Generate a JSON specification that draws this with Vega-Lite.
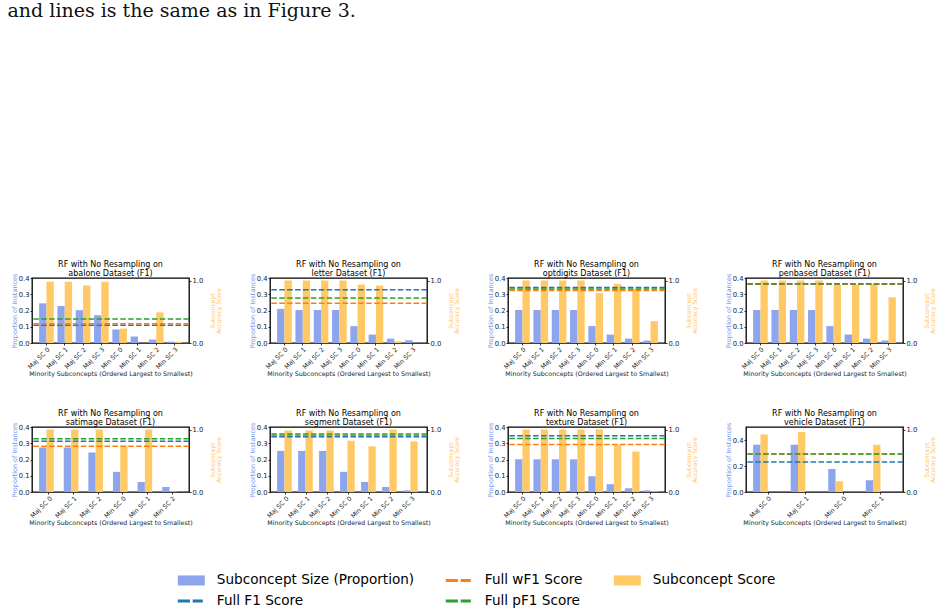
{
  "$schema": "https://vega.github.io/schema/vega-lite/v6.json",
  "padding": {"left": 7, "top": 2, "right": 4, "bottom": 2},
  "title": {"text": "and lines is the same as in Figure 3.", "anchor": "start", "font": "DejaVu Serif", "fontSize": 19, "fontWeight": "normal", "color": "#111", "offset": 239, "dx": -3, "lineHeight": 19},
  "columns": 4,
  "bounds": "flush",
  "spacing": {"row": 84, "column": 81},
  "datasets": {
    "bars": [
      {"ds": "abalone", "sc": "Maj SC 0", "prop": 0.244, "score": 0.98},
      {"ds": "abalone", "sc": "Maj SC 1", "prop": 0.227, "score": 0.98},
      {"ds": "abalone", "sc": "Maj SC 2", "prop": 0.202, "score": 0.92},
      {"ds": "abalone", "sc": "Maj SC 3", "prop": 0.171, "score": 0.98},
      {"ds": "abalone", "sc": "Min SC 0", "prop": 0.083, "score": 0.23},
      {"ds": "abalone", "sc": "Min SC 1", "prop": 0.040, "score": 0.0},
      {"ds": "abalone", "sc": "Min SC 2", "prop": 0.021, "score": 0.49},
      {"ds": "abalone", "sc": "Min SC 3", "prop": 0.008, "score": 0.02},
      {"ds": "letter", "sc": "Maj SC 0", "prop": 0.21, "score": 1.0},
      {"ds": "letter", "sc": "Maj SC 1", "prop": 0.203, "score": 1.0},
      {"ds": "letter", "sc": "Maj SC 2", "prop": 0.203, "score": 1.0},
      {"ds": "letter", "sc": "Maj SC 3", "prop": 0.203, "score": 1.0},
      {"ds": "letter", "sc": "Min SC 0", "prop": 0.104, "score": 0.935},
      {"ds": "letter", "sc": "Min SC 1", "prop": 0.052, "score": 0.92},
      {"ds": "letter", "sc": "Min SC 2", "prop": 0.027, "score": 0.027},
      {"ds": "letter", "sc": "Min SC 3", "prop": 0.017, "score": 0.0},
      {"ds": "optdigits", "sc": "Maj SC 0", "prop": 0.203, "score": 1.0},
      {"ds": "optdigits", "sc": "Maj SC 1", "prop": 0.203, "score": 1.0},
      {"ds": "optdigits", "sc": "Maj SC 2", "prop": 0.203, "score": 1.0},
      {"ds": "optdigits", "sc": "Maj SC 3", "prop": 0.203, "score": 1.0},
      {"ds": "optdigits", "sc": "Min SC 0", "prop": 0.104, "score": 0.80},
      {"ds": "optdigits", "sc": "Min SC 1", "prop": 0.052, "score": 0.946},
      {"ds": "optdigits", "sc": "Min SC 2", "prop": 0.027, "score": 0.865},
      {"ds": "optdigits", "sc": "Min SC 3", "prop": 0.015, "score": 0.35},
      {"ds": "penbased", "sc": "Maj SC 0", "prop": 0.203, "score": 1.0},
      {"ds": "penbased", "sc": "Maj SC 1", "prop": 0.203, "score": 1.0},
      {"ds": "penbased", "sc": "Maj SC 2", "prop": 0.203, "score": 1.0},
      {"ds": "penbased", "sc": "Maj SC 3", "prop": 0.203, "score": 1.0},
      {"ds": "penbased", "sc": "Min SC 0", "prop": 0.104, "score": 0.935},
      {"ds": "penbased", "sc": "Min SC 1", "prop": 0.052, "score": 0.935},
      {"ds": "penbased", "sc": "Min SC 2", "prop": 0.027, "score": 0.946},
      {"ds": "penbased", "sc": "Min SC 3", "prop": 0.015, "score": 0.73},
      {"ds": "satimage", "sc": "Maj SC 0", "prop": 0.274, "score": 1.0},
      {"ds": "satimage", "sc": "Maj SC 1", "prop": 0.274, "score": 1.0},
      {"ds": "satimage", "sc": "Maj SC 2", "prop": 0.243, "score": 1.0},
      {"ds": "satimage", "sc": "Min SC 0", "prop": 0.124, "score": 0.74},
      {"ds": "satimage", "sc": "Min SC 1", "prop": 0.062, "score": 1.0},
      {"ds": "satimage", "sc": "Min SC 2", "prop": 0.031, "score": 0.01},
      {"ds": "segment", "sc": "Maj SC 0", "prop": 0.253, "score": 0.985},
      {"ds": "segment", "sc": "Maj SC 1", "prop": 0.253, "score": 0.985},
      {"ds": "segment", "sc": "Maj SC 2", "prop": 0.253, "score": 0.985},
      {"ds": "segment", "sc": "Min SC 0", "prop": 0.124, "score": 0.82},
      {"ds": "segment", "sc": "Min SC 1", "prop": 0.062, "score": 0.73},
      {"ds": "segment", "sc": "Min SC 2", "prop": 0.031, "score": 1.0},
      {"ds": "segment", "sc": "Min SC 3", "prop": 0.01, "score": 0.81},
      {"ds": "texture", "sc": "Maj SC 0", "prop": 0.201, "score": 1.0},
      {"ds": "texture", "sc": "Maj SC 1", "prop": 0.201, "score": 1.0},
      {"ds": "texture", "sc": "Maj SC 2", "prop": 0.201, "score": 1.0},
      {"ds": "texture", "sc": "Maj SC 3", "prop": 0.201, "score": 1.0},
      {"ds": "texture", "sc": "Min SC 0", "prop": 0.097, "score": 1.0},
      {"ds": "texture", "sc": "Min SC 1", "prop": 0.048, "score": 0.75},
      {"ds": "texture", "sc": "Min SC 2", "prop": 0.023, "score": 0.65},
      {"ds": "texture", "sc": "Min SC 3", "prop": 0.01, "score": 0.01},
      {"ds": "vehicle", "sc": "Maj SC 0", "prop": 0.364, "score": 0.92},
      {"ds": "vehicle", "sc": "Maj SC 1", "prop": 0.364, "score": 0.96},
      {"ds": "vehicle", "sc": "Min SC 0", "prop": 0.177, "score": 0.173},
      {"ds": "vehicle", "sc": "Min SC 1", "prop": 0.091, "score": 0.757}
    ],
    "lines": [
      {"ds": "abalone", "f1": 0.283, "wf1": 0.31, "pf1": 0.385},
      {"ds": "letter", "f1": 0.854, "wf1": 0.638, "pf1": 0.719},
      {"ds": "optdigits", "f1": 0.89, "wf1": 0.84, "pf1": 0.865},
      {"ds": "penbased", "f1": 0.94, "wf1": 0.945, "pf1": 0.95},
      {"ds": "satimage", "f1": 0.813, "wf1": 0.731, "pf1": 0.852},
      {"ds": "segment", "f1": 0.885, "wf1": 0.91, "pf1": 0.93},
      {"ds": "texture", "f1": 0.90, "wf1": 0.76, "pf1": 0.857},
      {"ds": "vehicle", "f1": 0.48, "wf1": 0.61, "pf1": 0.61}
    ],
    "legend": [
      {"key": "Subconcept Size (Proportion)"},
      {"key": "Full wF1 Score"},
      {"key": "Subconcept Score"},
      {"key": "Full F1 Score"},
      {"key": "Full pF1 Score"}
    ]
  },
  "concat": [
    {
      "title": {"text": ["RF with No Resampling on", "abalone Dataset (F1)"]},
      "width": 157, "height": 65,
      "resolve": {"scale": {"y": "independent"}},
      "layer": [
        {"data": {"name": "bars"}, "transform": [{"filter": "datum.ds === 'abalone'"}],
          "mark": {"type": "bar", "color": "#8da5ed"},
          "encoding": {
            "x": {"field": "sc", "type": "nominal", "sort": null, "scale": {"paddingInner": 0.2, "paddingOuter": 0.39}, "axis": {"title": "Minority Subconcepts (Ordered Largest to Smallest)"}},
            "xOffset": {"datum": "p", "type": "nominal", "scale": {"domain": ["p", "s"], "paddingInner": 0, "paddingOuter": 0}},
            "y": {"field": "prop", "type": "quantitative", "scale": {"domain": [0, 0.4], "nice": false}, "axis": {"orient": "left", "values": [0, 0.1, 0.2, 0.3, 0.4], "format": ".1f", "title": "Proportion of Instances", "titleColor": "#7b96ea"}}
          }},
        {"layer": [
          {"data": {"name": "bars"}, "transform": [{"filter": "datum.ds === 'abalone'"}],
            "mark": {"type": "bar", "color": "#ffc966"},
            "encoding": {
              "x": {"field": "sc", "type": "nominal", "sort": null, "scale": {"paddingInner": 0.2, "paddingOuter": 0.39}, "axis": {"title": "Minority Subconcepts (Ordered Largest to Smallest)"}},
              "xOffset": {"datum": "s", "type": "nominal", "scale": {"domain": ["p", "s"], "paddingInner": 0, "paddingOuter": 0}},
              "y": {"field": "score", "type": "quantitative", "scale": {"domain": [0, 1.04], "nice": false}, "axis": {"orient": "right", "values": [0, 0.5, 1], "format": ".1f", "title": ["Subconcept", "Accuracy Score"], "titleColor": "#ffc35e", "titleAngle": 270, "titleBaseline": "top", "titleFontSize": 6, "titleLineHeight": 6}}
            }},
          {"data": {"name": "lines"}, "transform": [{"filter": "datum.ds === 'abalone'"}],
            "mark": {"type": "rule", "color": "#1f77b4", "strokeDash": [5.5, 2.4], "strokeWidth": 1.5},
            "encoding": {"y": {"field": "f1", "type": "quantitative", "scale": {"domain": [0, 1.04], "nice": false}}}},
          {"data": {"name": "lines"}, "transform": [{"filter": "datum.ds === 'abalone'"}],
            "mark": {"type": "rule", "color": "#ff7f0e", "strokeDash": [5.5, 2.4], "strokeWidth": 1.5},
            "encoding": {"y": {"field": "wf1", "type": "quantitative", "scale": {"domain": [0, 1.04], "nice": false}}}},
          {"data": {"name": "lines"}, "transform": [{"filter": "datum.ds === 'abalone'"}],
            "mark": {"type": "rule", "color": "#2ca02c", "strokeDash": [5.5, 2.4], "strokeWidth": 1.5},
            "encoding": {"y": {"field": "pf1", "type": "quantitative", "scale": {"domain": [0, 1.04], "nice": false}}}}
        ]},
        {"data": {"name": "legend"},
          "mark": {"type": "point", "opacity": 0, "filled": true},
          "encoding": {
            "color": {"field": "key", "type": "nominal", "sort": null,
              "scale": {"domain": ["Subconcept Size (Proportion)", "Full wF1 Score", "Subconcept Score", "Full F1 Score", "Full pF1 Score"], "range": ["#8da5ed", "#ff7f0e", "#ffc966", "#1f77b4", "#2ca02c"]},
              "legend": {"title": null, "orient": "none", "legendX": 150.8, "legendY": 293.5, "columns": 3, "direction": "horizontal", "symbolSize": 289, "symbolOpacity": 1, "symbolStrokeWidth": 0, "labelFont": "DejaVu Sans", "labelFontSize": 13.6, "labelColor": "#000", "labelOffset": 17, "columnPadding": 30, "rowPadding": 5, "padding": 0, "labelLimit": 400}},
            "shape": {"field": "key", "type": "nominal", "sort": null,
              "scale": {"domain": ["Subconcept Size (Proportion)", "Full wF1 Score", "Subconcept Score", "Full F1 Score", "Full pF1 Score"], "range": ["M-1.59,-0.59H1.59V0.59H-1.59Z", "M-1.59,-0.18H-0.16V0.18H-1.59Z M0.16,-0.18H1.35V0.18H0.16Z", "M-1.59,-0.59H1.59V0.59H-1.59Z", "M-1.59,-0.18H-0.16V0.18H-1.59Z M0.16,-0.18H1.35V0.18H0.16Z", "M-1.59,-0.18H-0.16V0.18H-1.59Z M0.16,-0.18H1.35V0.18H0.16Z"]},
              "legend": {"title": null, "orient": "none", "legendX": 150.8, "legendY": 293.5, "columns": 3, "direction": "horizontal", "symbolSize": 289, "symbolOpacity": 1, "symbolStrokeWidth": 0, "labelFont": "DejaVu Sans", "labelFontSize": 13.6, "labelColor": "#000", "labelOffset": 17, "columnPadding": 30, "rowPadding": 5, "padding": 0, "labelLimit": 400}}
          }}
      ]
    },
    {
      "title": {"text": ["RF with No Resampling on", "letter Dataset (F1)"]},
      "width": 157, "height": 65,
      "resolve": {"scale": {"y": "independent"}},
      "layer": [
        {"data": {"name": "bars"}, "transform": [{"filter": "datum.ds === 'letter'"}],
          "mark": {"type": "bar", "color": "#8da5ed"},
          "encoding": {
            "x": {"field": "sc", "type": "nominal", "sort": null, "scale": {"paddingInner": 0.2, "paddingOuter": 0.39}, "axis": {"title": "Minority Subconcepts (Ordered Largest to Smallest)"}},
            "xOffset": {"datum": "p", "type": "nominal", "scale": {"domain": ["p", "s"], "paddingInner": 0, "paddingOuter": 0}},
            "y": {"field": "prop", "type": "quantitative", "scale": {"domain": [0, 0.4], "nice": false}, "axis": {"orient": "left", "values": [0, 0.1, 0.2, 0.3, 0.4], "format": ".1f", "title": "Proportion of Instances", "titleColor": "#7b96ea"}}
          }},
        {"layer": [
          {"data": {"name": "bars"}, "transform": [{"filter": "datum.ds === 'letter'"}],
            "mark": {"type": "bar", "color": "#ffc966"},
            "encoding": {
              "x": {"field": "sc", "type": "nominal", "sort": null, "scale": {"paddingInner": 0.2, "paddingOuter": 0.39}, "axis": {"title": "Minority Subconcepts (Ordered Largest to Smallest)"}},
              "xOffset": {"datum": "s", "type": "nominal", "scale": {"domain": ["p", "s"], "paddingInner": 0, "paddingOuter": 0}},
              "y": {"field": "score", "type": "quantitative", "scale": {"domain": [0, 1.04], "nice": false}, "axis": {"orient": "right", "values": [0, 0.5, 1], "format": ".1f", "title": ["Subconcept", "Accuracy Score"], "titleColor": "#ffc35e", "titleAngle": 270, "titleBaseline": "top", "titleFontSize": 6, "titleLineHeight": 6}}
            }},
          {"data": {"name": "lines"}, "transform": [{"filter": "datum.ds === 'letter'"}],
            "mark": {"type": "rule", "color": "#1f77b4", "strokeDash": [5.5, 2.4], "strokeWidth": 1.5},
            "encoding": {"y": {"field": "f1", "type": "quantitative", "scale": {"domain": [0, 1.04], "nice": false}}}},
          {"data": {"name": "lines"}, "transform": [{"filter": "datum.ds === 'letter'"}],
            "mark": {"type": "rule", "color": "#ff7f0e", "strokeDash": [5.5, 2.4], "strokeWidth": 1.5},
            "encoding": {"y": {"field": "wf1", "type": "quantitative", "scale": {"domain": [0, 1.04], "nice": false}}}},
          {"data": {"name": "lines"}, "transform": [{"filter": "datum.ds === 'letter'"}],
            "mark": {"type": "rule", "color": "#2ca02c", "strokeDash": [5.5, 2.4], "strokeWidth": 1.5},
            "encoding": {"y": {"field": "pf1", "type": "quantitative", "scale": {"domain": [0, 1.04], "nice": false}}}}
        ]}
      ]
    },
    {
      "title": {"text": ["RF with No Resampling on", "optdigits Dataset (F1)"]},
      "width": 157, "height": 65,
      "resolve": {"scale": {"y": "independent"}},
      "layer": [
        {"data": {"name": "bars"}, "transform": [{"filter": "datum.ds === 'optdigits'"}],
          "mark": {"type": "bar", "color": "#8da5ed"},
          "encoding": {
            "x": {"field": "sc", "type": "nominal", "sort": null, "scale": {"paddingInner": 0.2, "paddingOuter": 0.39}, "axis": {"title": "Minority Subconcepts (Ordered Largest to Smallest)"}},
            "xOffset": {"datum": "p", "type": "nominal", "scale": {"domain": ["p", "s"], "paddingInner": 0, "paddingOuter": 0}},
            "y": {"field": "prop", "type": "quantitative", "scale": {"domain": [0, 0.4], "nice": false}, "axis": {"orient": "left", "values": [0, 0.1, 0.2, 0.3, 0.4], "format": ".1f", "title": "Proportion of Instances", "titleColor": "#7b96ea"}}
          }},
        {"layer": [
          {"data": {"name": "bars"}, "transform": [{"filter": "datum.ds === 'optdigits'"}],
            "mark": {"type": "bar", "color": "#ffc966"},
            "encoding": {
              "x": {"field": "sc", "type": "nominal", "sort": null, "scale": {"paddingInner": 0.2, "paddingOuter": 0.39}, "axis": {"title": "Minority Subconcepts (Ordered Largest to Smallest)"}},
              "xOffset": {"datum": "s", "type": "nominal", "scale": {"domain": ["p", "s"], "paddingInner": 0, "paddingOuter": 0}},
              "y": {"field": "score", "type": "quantitative", "scale": {"domain": [0, 1.04], "nice": false}, "axis": {"orient": "right", "values": [0, 0.5, 1], "format": ".1f", "title": ["Subconcept", "Accuracy Score"], "titleColor": "#ffc35e", "titleAngle": 270, "titleBaseline": "top", "titleFontSize": 6, "titleLineHeight": 6}}
            }},
          {"data": {"name": "lines"}, "transform": [{"filter": "datum.ds === 'optdigits'"}],
            "mark": {"type": "rule", "color": "#1f77b4", "strokeDash": [5.5, 2.4], "strokeWidth": 1.5},
            "encoding": {"y": {"field": "f1", "type": "quantitative", "scale": {"domain": [0, 1.04], "nice": false}}}},
          {"data": {"name": "lines"}, "transform": [{"filter": "datum.ds === 'optdigits'"}],
            "mark": {"type": "rule", "color": "#ff7f0e", "strokeDash": [5.5, 2.4], "strokeWidth": 1.5},
            "encoding": {"y": {"field": "wf1", "type": "quantitative", "scale": {"domain": [0, 1.04], "nice": false}}}},
          {"data": {"name": "lines"}, "transform": [{"filter": "datum.ds === 'optdigits'"}],
            "mark": {"type": "rule", "color": "#2ca02c", "strokeDash": [5.5, 2.4], "strokeWidth": 1.5},
            "encoding": {"y": {"field": "pf1", "type": "quantitative", "scale": {"domain": [0, 1.04], "nice": false}}}}
        ]}
      ]
    },
    {
      "title": {"text": ["RF with No Resampling on", "penbased Dataset (F1)"]},
      "width": 157, "height": 65,
      "resolve": {"scale": {"y": "independent"}},
      "layer": [
        {"data": {"name": "bars"}, "transform": [{"filter": "datum.ds === 'penbased'"}],
          "mark": {"type": "bar", "color": "#8da5ed"},
          "encoding": {
            "x": {"field": "sc", "type": "nominal", "sort": null, "scale": {"paddingInner": 0.2, "paddingOuter": 0.39}, "axis": {"title": "Minority Subconcepts (Ordered Largest to Smallest)"}},
            "xOffset": {"datum": "p", "type": "nominal", "scale": {"domain": ["p", "s"], "paddingInner": 0, "paddingOuter": 0}},
            "y": {"field": "prop", "type": "quantitative", "scale": {"domain": [0, 0.4], "nice": false}, "axis": {"orient": "left", "values": [0, 0.1, 0.2, 0.3, 0.4], "format": ".1f", "title": "Proportion of Instances", "titleColor": "#7b96ea"}}
          }},
        {"layer": [
          {"data": {"name": "bars"}, "transform": [{"filter": "datum.ds === 'penbased'"}],
            "mark": {"type": "bar", "color": "#ffc966"},
            "encoding": {
              "x": {"field": "sc", "type": "nominal", "sort": null, "scale": {"paddingInner": 0.2, "paddingOuter": 0.39}, "axis": {"title": "Minority Subconcepts (Ordered Largest to Smallest)"}},
              "xOffset": {"datum": "s", "type": "nominal", "scale": {"domain": ["p", "s"], "paddingInner": 0, "paddingOuter": 0}},
              "y": {"field": "score", "type": "quantitative", "scale": {"domain": [0, 1.04], "nice": false}, "axis": {"orient": "right", "values": [0, 0.5, 1], "format": ".1f", "title": ["Subconcept", "Accuracy Score"], "titleColor": "#ffc35e", "titleAngle": 270, "titleBaseline": "top", "titleFontSize": 6, "titleLineHeight": 6}}
            }},
          {"data": {"name": "lines"}, "transform": [{"filter": "datum.ds === 'penbased'"}],
            "mark": {"type": "rule", "color": "#1f77b4", "strokeDash": [5.5, 2.4], "strokeWidth": 1.5},
            "encoding": {"y": {"field": "f1", "type": "quantitative", "scale": {"domain": [0, 1.04], "nice": false}}}},
          {"data": {"name": "lines"}, "transform": [{"filter": "datum.ds === 'penbased'"}],
            "mark": {"type": "rule", "color": "#ff7f0e", "strokeDash": [5.5, 2.4], "strokeWidth": 1.5},
            "encoding": {"y": {"field": "wf1", "type": "quantitative", "scale": {"domain": [0, 1.04], "nice": false}}}},
          {"data": {"name": "lines"}, "transform": [{"filter": "datum.ds === 'penbased'"}],
            "mark": {"type": "rule", "color": "#2ca02c", "strokeDash": [5.5, 2.4], "strokeWidth": 1.5},
            "encoding": {"y": {"field": "pf1", "type": "quantitative", "scale": {"domain": [0, 1.04], "nice": false}}}}
        ]}
      ]
    },
    {
      "title": {"text": ["RF with No Resampling on", "satimage Dataset (F1)"]},
      "width": 157, "height": 65,
      "resolve": {"scale": {"y": "independent"}},
      "layer": [
        {"data": {"name": "bars"}, "transform": [{"filter": "datum.ds === 'satimage'"}],
          "mark": {"type": "bar", "color": "#8da5ed"},
          "encoding": {
            "x": {"field": "sc", "type": "nominal", "sort": null, "scale": {"paddingInner": 0.2, "paddingOuter": 0.29}, "axis": {"title": "Minority Subconcepts (Ordered Largest to Smallest)"}},
            "xOffset": {"datum": "p", "type": "nominal", "scale": {"domain": ["p", "s"], "paddingInner": 0, "paddingOuter": 0}},
            "y": {"field": "prop", "type": "quantitative", "scale": {"domain": [0, 0.4], "nice": false}, "axis": {"orient": "left", "values": [0, 0.1, 0.2, 0.3, 0.4], "format": ".1f", "title": "Proportion of Instances", "titleColor": "#7b96ea"}}
          }},
        {"layer": [
          {"data": {"name": "bars"}, "transform": [{"filter": "datum.ds === 'satimage'"}],
            "mark": {"type": "bar", "color": "#ffc966"},
            "encoding": {
              "x": {"field": "sc", "type": "nominal", "sort": null, "scale": {"paddingInner": 0.2, "paddingOuter": 0.29}, "axis": {"title": "Minority Subconcepts (Ordered Largest to Smallest)"}},
              "xOffset": {"datum": "s", "type": "nominal", "scale": {"domain": ["p", "s"], "paddingInner": 0, "paddingOuter": 0}},
              "y": {"field": "score", "type": "quantitative", "scale": {"domain": [0, 1.04], "nice": false}, "axis": {"orient": "right", "values": [0, 0.5, 1], "format": ".1f", "title": ["Subconcept", "Accuracy Score"], "titleColor": "#ffc35e", "titleAngle": 270, "titleBaseline": "top", "titleFontSize": 6, "titleLineHeight": 6}}
            }},
          {"data": {"name": "lines"}, "transform": [{"filter": "datum.ds === 'satimage'"}],
            "mark": {"type": "rule", "color": "#1f77b4", "strokeDash": [5.5, 2.4], "strokeWidth": 1.5},
            "encoding": {"y": {"field": "f1", "type": "quantitative", "scale": {"domain": [0, 1.04], "nice": false}}}},
          {"data": {"name": "lines"}, "transform": [{"filter": "datum.ds === 'satimage'"}],
            "mark": {"type": "rule", "color": "#ff7f0e", "strokeDash": [5.5, 2.4], "strokeWidth": 1.5},
            "encoding": {"y": {"field": "wf1", "type": "quantitative", "scale": {"domain": [0, 1.04], "nice": false}}}},
          {"data": {"name": "lines"}, "transform": [{"filter": "datum.ds === 'satimage'"}],
            "mark": {"type": "rule", "color": "#2ca02c", "strokeDash": [5.5, 2.4], "strokeWidth": 1.5},
            "encoding": {"y": {"field": "pf1", "type": "quantitative", "scale": {"domain": [0, 1.04], "nice": false}}}}
        ]}
      ]
    },
    {
      "title": {"text": ["RF with No Resampling on", "segment Dataset (F1)"]},
      "width": 157, "height": 65,
      "resolve": {"scale": {"y": "independent"}},
      "layer": [
        {"data": {"name": "bars"}, "transform": [{"filter": "datum.ds === 'segment'"}],
          "mark": {"type": "bar", "color": "#8da5ed"},
          "encoding": {
            "x": {"field": "sc", "type": "nominal", "sort": null, "scale": {"paddingInner": 0.2, "paddingOuter": 0.34}, "axis": {"title": "Minority Subconcepts (Ordered Largest to Smallest)"}},
            "xOffset": {"datum": "p", "type": "nominal", "scale": {"domain": ["p", "s"], "paddingInner": 0, "paddingOuter": 0}},
            "y": {"field": "prop", "type": "quantitative", "scale": {"domain": [0, 0.4], "nice": false}, "axis": {"orient": "left", "values": [0, 0.1, 0.2, 0.3, 0.4], "format": ".1f", "title": "Proportion of Instances", "titleColor": "#7b96ea"}}
          }},
        {"layer": [
          {"data": {"name": "bars"}, "transform": [{"filter": "datum.ds === 'segment'"}],
            "mark": {"type": "bar", "color": "#ffc966"},
            "encoding": {
              "x": {"field": "sc", "type": "nominal", "sort": null, "scale": {"paddingInner": 0.2, "paddingOuter": 0.34}, "axis": {"title": "Minority Subconcepts (Ordered Largest to Smallest)"}},
              "xOffset": {"datum": "s", "type": "nominal", "scale": {"domain": ["p", "s"], "paddingInner": 0, "paddingOuter": 0}},
              "y": {"field": "score", "type": "quantitative", "scale": {"domain": [0, 1.04], "nice": false}, "axis": {"orient": "right", "values": [0, 0.5, 1], "format": ".1f", "title": ["Subconcept", "Accuracy Score"], "titleColor": "#ffc35e", "titleAngle": 270, "titleBaseline": "top", "titleFontSize": 6, "titleLineHeight": 6}}
            }},
          {"data": {"name": "lines"}, "transform": [{"filter": "datum.ds === 'segment'"}],
            "mark": {"type": "rule", "color": "#1f77b4", "strokeDash": [5.5, 2.4], "strokeWidth": 1.5},
            "encoding": {"y": {"field": "f1", "type": "quantitative", "scale": {"domain": [0, 1.04], "nice": false}}}},
          {"data": {"name": "lines"}, "transform": [{"filter": "datum.ds === 'segment'"}],
            "mark": {"type": "rule", "color": "#ff7f0e", "strokeDash": [5.5, 2.4], "strokeWidth": 1.5},
            "encoding": {"y": {"field": "wf1", "type": "quantitative", "scale": {"domain": [0, 1.04], "nice": false}}}},
          {"data": {"name": "lines"}, "transform": [{"filter": "datum.ds === 'segment'"}],
            "mark": {"type": "rule", "color": "#2ca02c", "strokeDash": [5.5, 2.4], "strokeWidth": 1.5},
            "encoding": {"y": {"field": "pf1", "type": "quantitative", "scale": {"domain": [0, 1.04], "nice": false}}}}
        ]}
      ]
    },
    {
      "title": {"text": ["RF with No Resampling on", "texture Dataset (F1)"]},
      "width": 157, "height": 65,
      "resolve": {"scale": {"y": "independent"}},
      "layer": [
        {"data": {"name": "bars"}, "transform": [{"filter": "datum.ds === 'texture'"}],
          "mark": {"type": "bar", "color": "#8da5ed"},
          "encoding": {
            "x": {"field": "sc", "type": "nominal", "sort": null, "scale": {"paddingInner": 0.2, "paddingOuter": 0.39}, "axis": {"title": "Minority Subconcepts (Ordered Largest to Smallest)"}},
            "xOffset": {"datum": "p", "type": "nominal", "scale": {"domain": ["p", "s"], "paddingInner": 0, "paddingOuter": 0}},
            "y": {"field": "prop", "type": "quantitative", "scale": {"domain": [0, 0.4], "nice": false}, "axis": {"orient": "left", "values": [0, 0.1, 0.2, 0.3, 0.4], "format": ".1f", "title": "Proportion of Instances", "titleColor": "#7b96ea"}}
          }},
        {"layer": [
          {"data": {"name": "bars"}, "transform": [{"filter": "datum.ds === 'texture'"}],
            "mark": {"type": "bar", "color": "#ffc966"},
            "encoding": {
              "x": {"field": "sc", "type": "nominal", "sort": null, "scale": {"paddingInner": 0.2, "paddingOuter": 0.39}, "axis": {"title": "Minority Subconcepts (Ordered Largest to Smallest)"}},
              "xOffset": {"datum": "s", "type": "nominal", "scale": {"domain": ["p", "s"], "paddingInner": 0, "paddingOuter": 0}},
              "y": {"field": "score", "type": "quantitative", "scale": {"domain": [0, 1.04], "nice": false}, "axis": {"orient": "right", "values": [0, 0.5, 1], "format": ".1f", "title": ["Subconcept", "Accuracy Score"], "titleColor": "#ffc35e", "titleAngle": 270, "titleBaseline": "top", "titleFontSize": 6, "titleLineHeight": 6}}
            }},
          {"data": {"name": "lines"}, "transform": [{"filter": "datum.ds === 'texture'"}],
            "mark": {"type": "rule", "color": "#1f77b4", "strokeDash": [5.5, 2.4], "strokeWidth": 1.5},
            "encoding": {"y": {"field": "f1", "type": "quantitative", "scale": {"domain": [0, 1.04], "nice": false}}}},
          {"data": {"name": "lines"}, "transform": [{"filter": "datum.ds === 'texture'"}],
            "mark": {"type": "rule", "color": "#ff7f0e", "strokeDash": [5.5, 2.4], "strokeWidth": 1.5},
            "encoding": {"y": {"field": "wf1", "type": "quantitative", "scale": {"domain": [0, 1.04], "nice": false}}}},
          {"data": {"name": "lines"}, "transform": [{"filter": "datum.ds === 'texture'"}],
            "mark": {"type": "rule", "color": "#2ca02c", "strokeDash": [5.5, 2.4], "strokeWidth": 1.5},
            "encoding": {"y": {"field": "pf1", "type": "quantitative", "scale": {"domain": [0, 1.04], "nice": false}}}}
        ]}
      ]
    },
    {
      "title": {"text": ["RF with No Resampling on", "vehicle Dataset (F1)"]},
      "width": 157, "height": 65,
      "resolve": {"scale": {"y": "independent"}},
      "layer": [
        {"data": {"name": "bars"}, "transform": [{"filter": "datum.ds === 'vehicle'"}],
          "mark": {"type": "bar", "color": "#8da5ed"},
          "encoding": {
            "x": {"field": "sc", "type": "nominal", "sort": null, "scale": {"paddingInner": 0.2, "paddingOuter": 0.19}, "axis": {"title": "Minority Subconcepts (Ordered Largest to Smallest)"}},
            "xOffset": {"datum": "p", "type": "nominal", "scale": {"domain": ["p", "s"], "paddingInner": 0, "paddingOuter": 0}},
            "y": {"field": "prop", "type": "quantitative", "scale": {"domain": [0, 0.5], "nice": false}, "axis": {"orient": "left", "values": [0, 0.2, 0.4], "format": ".1f", "title": "Proportion of Instances", "titleColor": "#7b96ea"}}
          }},
        {"layer": [
          {"data": {"name": "bars"}, "transform": [{"filter": "datum.ds === 'vehicle'"}],
            "mark": {"type": "bar", "color": "#ffc966"},
            "encoding": {
              "x": {"field": "sc", "type": "nominal", "sort": null, "scale": {"paddingInner": 0.2, "paddingOuter": 0.19}, "axis": {"title": "Minority Subconcepts (Ordered Largest to Smallest)"}},
              "xOffset": {"datum": "s", "type": "nominal", "scale": {"domain": ["p", "s"], "paddingInner": 0, "paddingOuter": 0}},
              "y": {"field": "score", "type": "quantitative", "scale": {"domain": [0, 1.04], "nice": false}, "axis": {"orient": "right", "values": [0, 0.5, 1], "format": ".1f", "title": ["Subconcept", "Accuracy Score"], "titleColor": "#ffc35e", "titleAngle": 270, "titleBaseline": "top", "titleFontSize": 6, "titleLineHeight": 6}}
            }},
          {"data": {"name": "lines"}, "transform": [{"filter": "datum.ds === 'vehicle'"}],
            "mark": {"type": "rule", "color": "#1f77b4", "strokeDash": [5.5, 2.4], "strokeWidth": 1.5},
            "encoding": {"y": {"field": "f1", "type": "quantitative", "scale": {"domain": [0, 1.04], "nice": false}}}},
          {"data": {"name": "lines"}, "transform": [{"filter": "datum.ds === 'vehicle'"}],
            "mark": {"type": "rule", "color": "#ff7f0e", "strokeDash": [5.5, 2.4], "strokeWidth": 1.5},
            "encoding": {"y": {"field": "wf1", "type": "quantitative", "scale": {"domain": [0, 1.04], "nice": false}}}},
          {"data": {"name": "lines"}, "transform": [{"filter": "datum.ds === 'vehicle'"}],
            "mark": {"type": "rule", "color": "#2ca02c", "strokeDash": [5.5, 2.4], "strokeWidth": 1.5},
            "encoding": {"y": {"field": "pf1", "type": "quantitative", "scale": {"domain": [0, 1.04], "nice": false}}}}
        ]}
      ]
    }
  ],
  "config": {
    "font": "DejaVu Sans",
    "view": {"stroke": "#000", "strokeWidth": 1.3},
    "title": {"font": "DejaVu Sans", "fontSize": 8, "fontWeight": "normal", "color": "#000", "offset": -5, "lineHeight": 9, "anchor": "middle"},
    "axis": {"labelFont": "DejaVu Sans", "titleFont": "DejaVu Sans", "labelFontSize": 6.8, "titleFontSize": 6.5, "titleFontWeight": "normal", "domain": false, "grid": false, "tickColor": "#000", "tickSize": 2, "tickWidth": 0.8, "labelColor": "#222", "titleColor": "#222", "labelPadding": 1, "titlePadding": 1},
    "axisX": {"labelAngle": -45, "labelFontSize": 6.3, "titleFontSize": 6.3}
  }
}
